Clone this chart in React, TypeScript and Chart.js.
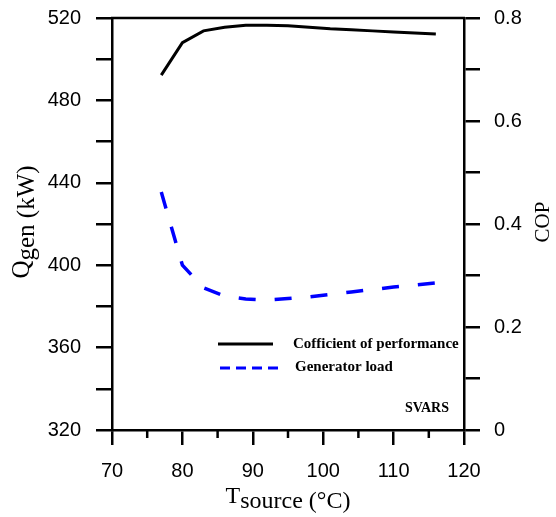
import React, { useEffect, useRef } from "react";
import { Chart, registerables } from "chart.js";

Chart.register(...registerables);

const tSource = [77, 80, 83, 86, 89, 92, 95, 98, 101, 104, 107, 110, 113, 116];
const copValues = [0.689, 0.752, 0.775, 0.782, 0.786, 0.786, 0.785, 0.782, 0.779, 0.777, 0.775, 0.773, 0.771, 0.769];
const genLoad = [435.5, 400.0, 389.0, 385.0, 383.6, 383.1, 383.8, 384.6, 385.8, 387.0, 388.2, 389.4, 390.4, 391.4];
const xMinorTicks = [75, 85, 95, 105, 115];
const legendLabels = ["Cofficient of performance", "Generator load"];
const noteText = "SVARS";

const SERIF = '"Liberation Serif", "Times New Roman", serif';
const SANS = '"Liberation Sans", Arial, sans-serif';

const decorPlugin = {
  id: "decor",
  afterDraw(chart: any) {
    const { ctx, chartArea } = chart;
    const { left, right, top, bottom } = chartArea;
    const xs = chart.scales.x;
    ctx.save();
    // top border
    ctx.strokeStyle = "#000";
    ctx.lineWidth = 2.5;
    ctx.beginPath();
    ctx.moveTo(left - 1, top);
    ctx.lineTo(right + 1, top);
    ctx.stroke();
    // x minor ticks
    for (const v of xMinorTicks) {
      const px = xs.getPixelForValue(v);
      ctx.beginPath();
      ctx.moveTo(px, bottom);
      ctx.lineTo(px, bottom + 8);
      ctx.stroke();
    }
    // legend
    ctx.lineWidth = 3;
    ctx.beginPath();
    ctx.moveTo(218, 344);
    ctx.lineTo(273, 344);
    ctx.stroke();
    ctx.strokeStyle = "#0000ff";
    ctx.setLineDash([10, 6]);
    ctx.beginPath();
    ctx.moveTo(220, 368);
    ctx.lineTo(279, 368);
    ctx.stroke();
    ctx.setLineDash([]);
    ctx.fillStyle = "#000";
    ctx.font = "bold 15px " + SERIF;
    ctx.textBaseline = "middle";
    ctx.textAlign = "left";
    ctx.fillText(legendLabels[0], 293, 344);
    ctx.fillText(legendLabels[1], 295, 367);
    ctx.font = "bold 14px " + SERIF;
    ctx.textAlign = "right";
    ctx.fillText(noteText, 449, 408);

    // x title
    ctx.textBaseline = "alphabetic";
    ctx.textAlign = "left";
    ctx.font = "24px " + SERIF;
    const wT = ctx.measureText("T").width;
    const wRest = ctx.measureText("source (°C)").width;
    const cx = (left + right) / 2;
    const x0 = cx - (wT + wRest) / 2;
    ctx.fillText("T", x0, 503);
    ctx.fillText("source (°C)", x0 + wT, 508);

    // y left title
    ctx.font = "25px " + SERIF;
    const wQ = ctx.measureText("Q").width;
    const wGen = ctx.measureText("gen (kW)").width;
    const cy = (top + bottom) / 2 - 2;
    ctx.save();
    ctx.rotate(-Math.PI / 2);
    const s0 = -(cy + (wQ + wGen) / 2);
    ctx.fillText("Q", s0, 29);
    ctx.fillText("gen (kW)", s0 + wQ, 34);
    // right title
    ctx.font = "21px " + SERIF;
    ctx.textAlign = "center";
    ctx.fillText("COP", -(cy), 549);
    ctx.restore();
    ctx.restore();
  },
};

export default function App() {
  const ref = useRef<HTMLCanvasElement>(null);
  useEffect(() => {
    if (!ref.current) return;
    const axisCommon = {
      border: { display: true, color: "#000", width: 2.5 },
      grid: {
        display: true,
        drawOnChartArea: false,
        drawTicks: true,
        tickLength: 16,
        color: "#000",
        tickColor: "#000",
        lineWidth: 2.5,
        tickWidth: 2.5,
      },
    };
    const chart = new Chart(ref.current, {
      type: "line",
      data: {
        labels: tSource,
        datasets: [
          {
            label: legendLabels[0],
            data: tSource.map((t, i) => ({ x: t, y: copValues[i] })),
            yAxisID: "y1",
            borderColor: "#000",
            borderWidth: 3,
            pointRadius: 0,
            tension: 0,
            fill: false,
          },
          {
            label: legendLabels[1],
            data: tSource.map((t, i) => ({ x: t, y: genLoad[i] })),
            yAxisID: "y",
            borderColor: "#0000ff",
            borderWidth: 3.5,
            borderDash: [17, 19],
            pointRadius: 0,
            tension: 0,
            fill: false,
          },
        ],
      },
      options: {
        responsive: false,
        animation: false,
        devicePixelRatio: 1,
        layout: { padding: { top: 18, left: 0, right: 0, bottom: 0 } },
        plugins: { legend: { display: false }, tooltip: { enabled: false }, title: { display: false } },
        scales: {
          x: {
            type: "linear",
            position: "bottom",
            min: 70,
            max: 120,
            ...axisCommon,
            grid: { ...axisCommon.grid, tickLength: 15 },
            ticks: {
              stepSize: 10,
              color: "#000",
              font: { family: SANS, size: 20 },
              padding: 14,
              maxRotation: 0,
            },
            afterFit(scale: any) {
              scale.height = 87;
              scale.paddingLeft = 0;
              scale.paddingRight = 0;
            },
          },
          y: {
            type: "linear",
            position: "left",
            min: 320,
            max: 520,
            ...axisCommon,
            ticks: {
              stepSize: 20,
              color: "#000",
              font: { family: SANS, size: 20 },
              padding: 15,
              callback: (v: any) => (Math.round(v) % 40 === 0 ? String(v) : ""),
            },
            afterFit(scale: any) {
              scale.width = 112;
              scale.paddingTop = 0;
              scale.paddingBottom = 0;
            },
          },
          y1: {
            type: "linear",
            position: "right",
            min: 0,
            max: 0.8,
            ...axisCommon,
            ticks: {
              stepSize: 0.1,
              color: "#000",
              font: { family: SANS, size: 20 },
              padding: 14,
              callback: (v: any) => {
                const k = Math.round(v * 10);
                return k % 2 === 0 ? (k === 0 ? "0" : (k / 10).toFixed(1)) : "";
              },
            },
            afterFit(scale: any) {
              scale.width = 92;
              scale.paddingTop = 0;
              scale.paddingBottom = 0;
            },
          },
        },
      },
      plugins: [decorPlugin],
    });
    return () => chart.destroy();
  }, []);
  return (
    <div style={{ position: "fixed", left: 0, top: 0, width: 556, height: 517, background: "#fff" }}>
      <canvas ref={ref} width={556} height={517} />
    </div>
  );
}
